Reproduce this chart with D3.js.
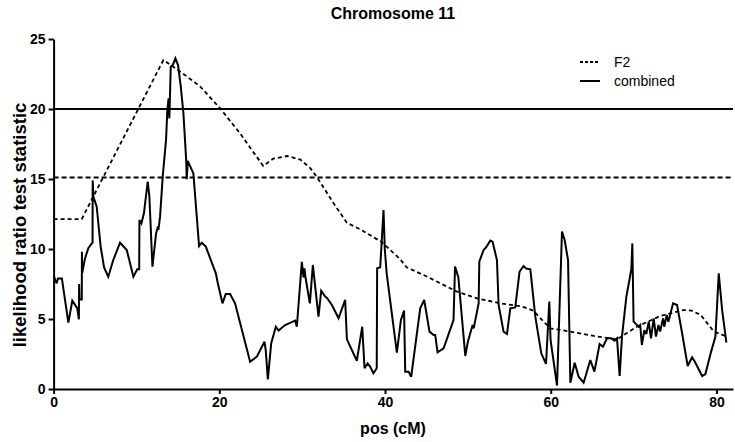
<!DOCTYPE html>
<html>
<head>
<meta charset="utf-8">
<script src="https://cdn.jsdelivr.net/npm/d3@7"></script>
<style>
  html, body { margin: 0; padding: 0; background: #fff; }
  svg { display: block; }
  text { font-family: "Liberation Sans", Arial, Helvetica, sans-serif; }
</style>
</head>
<body>
<svg id="chart" width="735" height="442"></svg>
<script>
// ---- data ----
const titleText = "Chromosome 11";
const xLabel = "pos (cM)";
const yLabel = "likelihood ratio test statistic";
const xTicks = [0, 20, 40, 60, 80];
const yTicks = [0, 5, 10, 15, 20, 25];
const seriesNames = ["F2", "combined"];
const thresholdF2 = 15.1;
const thresholdCombined = 20.0;

const f2Pos = [0, 3.4, 13.25, 15.3, 17.7, 20.1, 22.5, 25.3, 26.5, 28.2, 29.8, 31.0, 31.8, 33.8, 35.4, 37.0, 39.6, 41.8, 42.6, 45.1, 48.7, 51.1, 53.9, 56.5, 57.9, 59.0, 59.95, 62.4, 65.2, 68.0, 70.4, 73.2, 76.0, 77.0, 78.1, 79.7, 81.3];
const f2Val = [12.14, 12.14, 23.5, 22.67, 21.6, 20.05, 18.26, 15.93, 16.45, 16.64, 16.38, 15.76, 15.12, 13.26, 11.88, 11.4, 10.5, 9.29, 8.69, 8.02, 6.95, 6.48, 6.12, 5.9, 5.6, 4.9, 4.33, 4.1, 3.79, 3.55, 4.45, 5.21, 5.64, 5.6, 5.29, 4.1, 3.74];

const combPos = [0.05, 0.37, 0.53, 1.0, 1.78, 2.26, 2.86, 3.05, 3.08, 3.12, 3.4, 3.42, 3.46, 3.79, 4.19, 4.6, 4.7, 4.72, 4.8, 5.2, 5.68, 6.09, 6.6, 7.2, 8.02, 8.83, 9.63, 10.1, 10.33, 10.36, 10.6, 10.9, 11.36, 11.56, 11.93, 12.37, 12.6, 12.65, 12.85, 13.17, 13.57, 13.73, 13.88, 13.97, 14.14, 14.38, 14.7, 15.02, 15.35, 15.67, 16.0, 16.07, 16.2, 16.87, 17.56, 17.88, 18.37, 19.58, 19.82, 20.38, 20.78, 21.3, 21.9, 23.72, 24.53, 25.45, 25.6, 25.86, 26.26, 26.82, 27.15, 27.95, 29.15, 29.36, 29.96, 30.16, 30.28, 30.4, 30.93, 31.29, 31.97, 32.3, 32.78, 33.0, 33.59, 34.39, 35.19, 35.4, 36.6, 37.25, 37.53, 37.9, 38.2, 38.6, 39.0, 39.05, 39.42, 39.82, 39.98, 40.2, 41.43, 41.92, 42.3, 42.44, 42.84, 43.16, 44.25, 44.73, 45.37, 45.86, 46.06, 46.34, 47.07, 48.27, 48.45, 48.85, 49.69, 50.0, 50.57, 50.7, 51.3, 51.38, 51.9, 52.19, 52.71, 52.98, 53.51, 53.71, 54.31, 54.72, 55.12, 55.72, 56.24, 56.73, 57.05, 57.54, 58.14, 58.86, 59.43, 59.83, 59.98, 60.76, 61.36, 61.68, 61.85, 62.09, 62.37, 62.89, 63.37, 63.97, 64.78, 65.27, 65.9, 66.3, 66.8, 67.3, 67.7, 68.0, 68.32, 68.6, 69.13, 69.73, 69.85, 70.0, 70.6, 70.8, 71.0, 71.3, 71.54, 71.83, 72.1, 72.43, 72.7, 73.0, 73.2, 73.56, 73.7, 74.0, 74.2, 74.77, 75.25, 75.86, 76.53, 77.06, 77.4, 78.27, 78.67, 79.36, 79.88, 80.28, 80.69, 81.2];
const combVal = [8.02, 7.55, 7.9, 7.9, 4.74, 6.31, 5.76, 4.98, 7.5, 6.4, 6.4, 9.8, 8.3, 9.33, 10.05, 10.4, 10.45, 14.9, 13.74, 13.02, 10.17, 8.69, 8.02, 9.21, 10.45, 9.93, 8.02, 8.55, 8.55, 12.07, 11.83, 12.55, 14.81, 13.74, 8.74, 11.12, 11.6, 11.36, 12.31, 15.17, 17.79, 19.93, 20.76, 19.33, 23.02, 23.14, 23.62, 23.14, 21.6, 19.69, 16.36, 14.98, 16.3, 15.4, 10.21, 10.45, 10.17, 8.26, 7.55, 6.12, 6.79, 6.79, 6.12, 1.95, 2.31, 3.38, 2.79, 0.69, 3.26, 4.45, 4.17, 4.57, 4.88, 4.45, 9.09, 7.98, 8.62, 7.98, 6.12, 8.86, 5.17, 7.02, 6.6, 6.5, 6.0, 5.05, 6.36, 3.55, 2.02, 4.45, 1.48, 1.83, 1.6, 1.12, 1.48, 8.62, 8.69, 12.79, 9.93, 8.26, 2.6, 4.93, 5.6, 1.24, 1.24, 0.88, 5.76, 6.36, 4.1, 3.86, 3.86, 2.62, 2.9, 4.93, 8.74, 7.98, 2.36, 3.38, 4.57, 4.33, 6.12, 9.09, 9.93, 10.12, 10.6, 10.52, 9.21, 6.0, 4.1, 3.93, 5.76, 5.83, 8.38, 8.79, 8.6, 8.55, 5.17, 2.55, 1.79, 6.24, 3.5, 0.25, 11.24, 10.64, 10.05, 9.21, 0.45, 1.88, 0.88, 0.45, 2.07, 1.24, 3.21, 3.02, 3.62, 3.62, 3.45, 3.62, 0.93, 3.74, 6.6, 8.55, 10.4, 4.81, 4.45, 4.57, 3.14, 4.2, 3.93, 4.81, 3.62, 5.05, 3.74, 4.57, 4.1, 5.05, 4.45, 5.29, 4.81, 6.12, 6.0, 3.98, 1.64, 2.26, 1.95, 0.93, 1.07, 2.67, 3.74, 8.26, 5.64, 3.31];

// ---- chart ----
const svg = d3.select("#chart");
const x = d3.scaleLinear().domain([0, 82]).range([53.6, 733]);
const y = d3.scaleLinear().domain([0, 25]).range([389, 39]);
const font = '"Liberation Sans", Arial, Helvetica, sans-serif';

// threshold lines
svg.append("line")
  .attr("x1", x(0)).attr("x2", x(82))
  .attr("y1", y(thresholdCombined)).attr("y2", y(thresholdCombined))
  .attr("stroke", "#000").attr("stroke-width", 2);
svg.append("line")
  .attr("x1", x(0)).attr("x2", x(82))
  .attr("y1", y(thresholdF2)).attr("y2", y(thresholdF2))
  .attr("stroke", "#000").attr("stroke-width", 2)
  .attr("stroke-dasharray", "5,3");

const f2Data = f2Pos.map((p, i) => [p, f2Val[i]]);
const combData = combPos.map((p, i) => [p, combVal[i]]);
const line = d3.line().x(d => x(d[0])).y(d => y(d[1])).curve(d3.curveLinear);

svg.append("path").datum(f2Data)
  .attr("d", line).attr("fill", "none")
  .attr("stroke", "#000").attr("stroke-width", 1.8)
  .attr("stroke-dasharray", "4,3");

svg.append("path").datum(combData)
  .attr("d", line).attr("fill", "none")
  .attr("stroke", "#000").attr("stroke-width", 2)
  .attr("stroke-linejoin", "miter").attr("stroke-miterlimit", 3);

// axes
const xAxis = svg.append("g").attr("transform", `translate(0,${y(0)})`)
  .call(d3.axisBottom(x).tickValues(xTicks).tickSize(5).tickSizeOuter(0).tickPadding(3));
const yAxis = svg.append("g").attr("transform", `translate(${x(0)},0)`)
  .call(d3.axisLeft(y).tickValues(yTicks).tickSize(5).tickSizeOuter(0).tickPadding(3));
[xAxis, yAxis].forEach(g => {
  g.select(".domain").attr("stroke", "#000").attr("stroke-width", 2);
  g.selectAll(".tick line").attr("stroke", "#000").attr("stroke-width", 2);
  g.selectAll(".tick text").attr("fill", "#000")
    .style("font-family", font).style("font-size", "14px").style("font-weight", "bold");
});

// titles
svg.append("text").attr("x", 393).attr("y", 19).attr("text-anchor", "middle")
  .style("font-size", "16px").style("font-weight", "bold").text(titleText);
svg.append("text").attr("x", 393).attr("y", 434).attr("text-anchor", "middle")
  .style("font-size", "16px").style("font-weight", "bold").text(xLabel);
svg.append("text").attr("transform", "translate(26,225) rotate(-90)").attr("text-anchor", "middle")
  .style("font-size", "18.5px").style("font-weight", "bold").text(yLabel);

// legend
const legend = svg.append("g");
[0, 1].forEach(i => {
  const ly = 62 + i * 19;
  legend.append("line").attr("x1", 580).attr("x2", 600).attr("y1", ly).attr("y2", ly)
    .attr("stroke", "#000").attr("stroke-width", i === 0 ? 1.8 : 2)
    .attr("stroke-dasharray", i === 0 ? "3,2" : null);
  legend.append("text").attr("x", 614).attr("y", ly + 5)
    .style("font-size", "14px").text(seriesNames[i]);
});
</script>
</body>
</html>
